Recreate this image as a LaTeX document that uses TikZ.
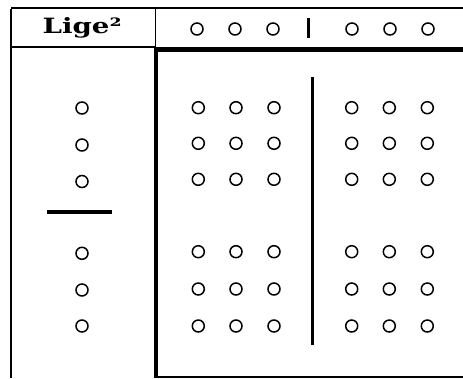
\documentclass[tikz,border=0pt]{standalone}
\usepackage{fontspec}
\usepackage{graphicx}
\newfontfamily\headfont{DejaVu Serif}
\tikzset{
  ring/.style={circle,draw=black,line width=1.5pt,minimum size=12pt,inner sep=0pt},
  thinrule/.style={line width=1.8pt},
  thickrule/.style={line width=4.5pt},
  barrule/.style={line width=3.6pt},
}
\begin{document}
\begin{tikzpicture}[x=1pt,y=-1pt]
\useasboundingbox (0,0) rectangle (463,378);
% frame
\coordinate (tl) at (11,8);
\coordinate (tr) at (463,8);
\coordinate (hd) at (155.5,8);
\coordinate (hdb) at (155.5,47);
\coordinate (hl) at (11,47);
\coordinate (bl) at (11,378);
\coordinate (tk1) at (153.5,49.5);
\coordinate (tk2) at (463,49.5);
\coordinate (tv1) at (155.8,47.5);
\coordinate (tv2) at (155.8,378);
\coordinate (bb1) at (156,376.7);
\coordinate (bb2) at (463,376.7);
\draw[thinrule] (tl) -- (tr);
\draw[thinrule] ([yshift=-0.9pt]tl) -- (bl);
\draw[thinrule] (hd) -- (hdb);
\draw[thinrule] (hl) -- (hdb);
\draw[thickrule] (tk1) -- (tk2);
\draw[thickrule] (tv1) -- (tv2);
\draw[line width=1.6pt] (bb1) -- (bb2);
% header text
\node[anchor=base,inner sep=0pt] (title) at (82.2,33.3)
  {\resizebox{79pt}{16pt}{\headfont\bfseries Lige²}};
% header circles
\foreach \x [count=\i] in {197,235,273,352,390,428}
  \node[ring] (h\i) at (\x,29) {};
\coordinate (hb1) at (308.3,18.3);
\coordinate (hb2) at (308.3,37.5);
\draw[barrule] (hb1) -- (hb2);
% left column
\foreach \y [count=\i] in {108,145,181.5,253.3,290,326}
  \node[ring] (l\i) at (82,\y) {};
\coordinate (lb1) at (46.7,211.7);
\coordinate (lb2) at (112.3,211.7);
\draw[barrule] (lb1) -- (lb2);
% body circles
\foreach \y [count=\j] in {107.7,143.3,179.3,251.7,289,326}
  \foreach \x [count=\i] in {198.3,236,274,351.7,389.3,427.3}
    \node[ring] (b\j\i) at (\x,\y) {};
\coordinate (vb1) at (312.3,77.3);
\coordinate (vb2) at (312.3,345);
\draw[barrule] (vb1) -- (vb2);
\end{tikzpicture}
\end{document}
